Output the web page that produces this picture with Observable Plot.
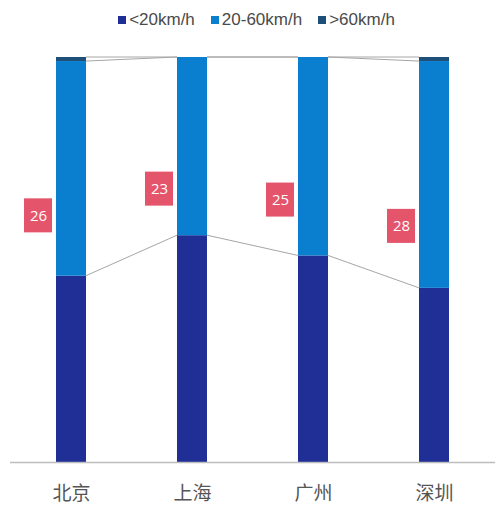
<!DOCTYPE html>
<html>
<head>
<meta charset="utf-8">
<script src="https://cdn.jsdelivr.net/npm/d3@7"></script>
<script src="https://cdn.jsdelivr.net/npm/@observablehq/plot@0.6"></script>
<style>
  html, body { margin: 0; padding: 0; background: #fff; }
  body { width: 495px; height: 506px; overflow: hidden; font-family: "Liberation Sans", "Noto Sans CJK SC", sans-serif; }
  #legend { height: 36px; display: flex; justify-content: center; align-items: center; gap: 16px; font-size: 17px; color: #4a4a4a; padding: 4px 0 0 18px; box-sizing: border-box; }
  #legend .item { display: flex; align-items: center; gap: 3px; }
  #legend .sw { width: 8px; height: 8px; display: inline-block; }
</style>
</head>
<body>
<div id="legend"></div>
<div id="chart"></div>
<script>
const cities = ["北京", "上海", "广州", "深圳"];
const series = ["<20km/h", "20-60km/h", ">60km/h"];
const slow = [46, 56, 51, 43];
const mid = [53, 44, 49, 56];
const fast = [1, 0, 0, 1];
const avgSpeed = [26, 23, 25, 28];
const labelPos = [60.9, 67.5, 64.8, 58.3];
const colors = ["#1f2f96", "#0a7fd0", "#1d4f78"];

// legend
const legend = document.getElementById("legend");
series.forEach((s, i) => {
  const it = document.createElement("span");
  it.className = "item";
  const sw = document.createElement("span");
  sw.className = "sw";
  sw.style.background = colors[i];
  it.appendChild(sw);
  it.appendChild(document.createTextNode(s));
  legend.appendChild(it);
});

const seriesValues = [slow, mid, fast];
const rows = [];
series.forEach((s, si) => cities.forEach((c, ci) => rows.push({city: c, series: s, value: seriesValues[si][ci]})));

const labels = cities.map((c, i) => ({city: c, value: avgSpeed[i], pos: labelPos[i]}));

// cumulative boundaries for connector lines
const bounds = [
  cities.map((c, i) => slow[i]),
  cities.map((c, i) => slow[i] + mid[i]),
  cities.map((c, i) => slow[i] + mid[i] + fast[i])
];

function connectors(index, scales) {
  const x = scales.x, y = scales.y;
  const bw = x.bandwidth ? x.bandwidth() : 0;
  const g = d3.create("svg:g").attr("stroke", "#a6a6a6").attr("stroke-width", 1).attr("fill", "none");
  bounds.forEach(b => {
    for (let i = 0; i < cities.length - 1; i++) {
      g.append("line")
        .attr("x1", x(cities[i]) + bw).attr("y1", y(b[i]))
        .attr("x2", x(cities[i + 1])).attr("y2", y(b[i + 1]));
    }
  });
  return g.node();
}

const chart = Plot.plot({
  width: 495,
  height: 470,
  marginTop: 21,
  marginBottom: 44,
  marginLeft: 10,
  marginRight: 0,
  style: {fontFamily: "'Noto Sans CJK SC', 'Liberation Sans', sans-serif", fontSize: "19px", color: "#555", background: "#fff"},
  x: {domain: cities, paddingInner: 0.754, paddingOuter: 0.37, tickSize: 0, tickPadding: 24, label: null},
  y: {domain: [0, 100], axis: null},
  color: {domain: series, range: colors},
  marks: [
    connectors,
    Plot.barY(rows, {x: "city", y: "value", fill: "series", order: series}),
    Plot.ruleY([0], {stroke: "#bdbdbd", strokeWidth: 1.5}),
    Plot.barY(labels, {x: "city", y1: d => d.pos - 4.2, y2: d => d.pos + 4.2, dx: -33, insetLeft: 1, insetRight: 1, fill: "#e4546a"}),
    Plot.text(labels, {x: "city", y: "pos", text: d => String(d.value), dx: -33, fill: "#fff", fontSize: 15, fontFamily: "'Open Sans', sans-serif"})
  ]
});
document.getElementById("chart").appendChild(chart);
</script>
</body>
</html>
